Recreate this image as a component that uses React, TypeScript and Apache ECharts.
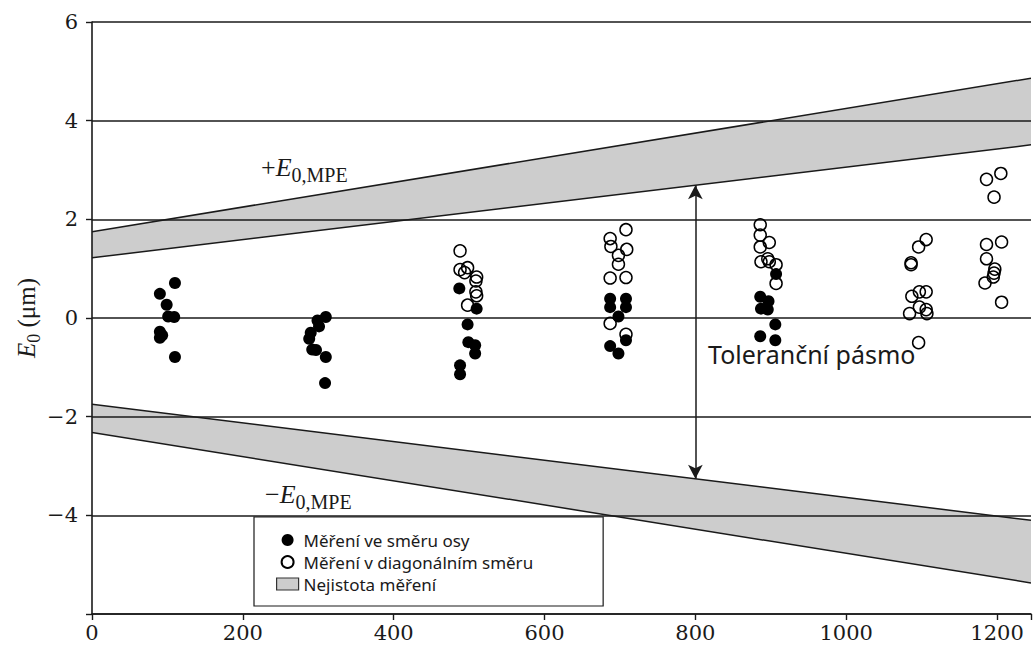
import React, { useEffect, useRef } from "react";
import * as echarts from "echarts";

// ---- data ----
const X_MIN = 0;
const X_MAX = 1245;
const Y_MIN = -6;
const Y_MAX = 6;
const xTickValues = [0, 200, 400, 600, 800, 1000, 1200];
const yTickValues = [-6, -4, -2, 0, 2, 4, 6];

// measurements along the axis direction (filled dots) [length, E0]
const axisDirection: [number, number][] = [
  [110, 0.71], [90, 0.49], [99, 0.27], [101, 0.03], [109, 0.02], [90, -0.28], [93, -0.35], [90, -0.4], [110, -0.79],
  [310, 0.02], [299, -0.05], [301, -0.17], [290, -0.3], [288, -0.42], [292, -0.64], [297, -0.65], [310, -0.79], [309, -1.32],
  [487, 0.6], [510, 0.19], [498, -0.13], [499, -0.49], [508, -0.55], [508, -0.72], [488, -0.96], [488, -1.14],
  [687, 0.39], [708, 0.39], [687, 0.22], [708, 0.22], [698, 0.03], [708, -0.45], [687, -0.57], [698, -0.72],
  [907, 0.89], [886, 0.43], [897, 0.34], [887, 0.19], [896, 0.17], [906, -0.13], [886, -0.37], [906, -0.45],
];

// measurements in diagonal direction (open circles)
const diagonalDirection: [number, number][] = [
  [488, 1.36], [488, 0.98], [498, 1.02], [494, 0.92], [510, 0.83], [509, 0.75], [509, 0.53], [510, 0.45], [498, 0.26],
  [708, 1.79], [687, 1.61], [688, 1.45], [709, 1.39], [698, 1.27], [698, 1.09], [687, 0.81], [708, 0.82], [687, -0.11], [708, -0.33],
  [886, 1.89], [886, 1.68], [898, 1.53], [886, 1.44], [896, 1.2], [887, 1.14], [898, 1.14], [907, 1.08], [907, 0.7],
  [1106, 1.59], [1096, 1.44], [1086, 1.12], [1086, 1.08], [1097, 0.53], [1106, 0.53], [1087, 0.44], [1097, 0.22], [1106, 0.17], [1084, 0.09], [1107, 0.09], [1096, -0.5],
  [1205, 2.93], [1186, 2.81], [1196, 2.45], [1206, 1.54], [1186, 1.49], [1186, 1.2], [1197, 0.99], [1196, 0.91], [1195, 0.83], [1184, 0.71], [1206, 0.32],
];

// uncertainty bands: [xStart, xEnd, lowStart, lowEnd, highStart, highEnd]
const upperBand = [0, 1245, 1.22, 3.51, 1.75, 4.86];
const lowerBand = [0, 1245, -2.32, -5.37, -1.75, -4.1];

// tolerance arrow [x, yTop, yBottom]
const toleranceArrow = [800, 2.69, -3.26];

const NAME_AXIS = "Měření ve směru osy";
const NAME_DIAG = "Měření v diagonálním směru";
const NAME_BAND = "Nejistota měření";

const SERIF = "'Liberation Serif', 'DejaVu Serif', serif";
const TICK_SERIF = "'DejaVu Serif', 'Liberation Serif', serif";
const SANS = "'Noto Sans', 'Open Sans', sans-serif";
const INK = "#1a1a1a";

export default function App() {
  const ref = useRef<HTMLDivElement>(null);

  useEffect(() => {
    if (!ref.current) return;
    const chart = echarts.init(ref.current, null, { renderer: "svg" });

    const bandRender = (params: any, api: any) => {
      const x0 = api.value(0), x1 = api.value(1);
      const lo0 = api.value(2), lo1 = api.value(3);
      const hi0 = api.value(4), hi1 = api.value(5);
      const a = api.coord([x0, lo0]);
      const b = api.coord([x1, lo1]);
      const c = api.coord([x1, hi1]);
      const d = api.coord([x0, hi0]);
      return {
        type: "group",
        children: [
          { type: "polygon", shape: { points: [a, b, c, d] }, style: { fill: "#cdcdcd", stroke: null } },
          { type: "line", shape: { x1: a[0], y1: a[1], x2: b[0], y2: b[1] }, style: { stroke: INK, lineWidth: 1.5 } },
          { type: "line", shape: { x1: d[0], y1: d[1], x2: c[0], y2: c[1] }, style: { stroke: INK, lineWidth: 1.5 } },
        ],
      };
    };

    const subLabel = (prefix: string) => ({
      text: "{n|" + prefix + "}{e|E}{s|0,MPE}",
      align: "left",
      verticalAlign: "middle",
      rich: {
        n: { fontFamily: SERIF, fontSize: 26, fill: INK, lineHeight: 36 },
        e: { fontFamily: SERIF, fontSize: 26, fontStyle: "italic", fill: INK, lineHeight: 36 },
        s: { fontFamily: SERIF, fontSize: 20, fill: INK, lineHeight: 16, verticalAlign: "bottom" },
      },
    });

    const option: any = {
      animation: false,
      backgroundColor: "#ffffff",
      grid: { left: 92, right: 0, top: 22, bottom: 43, containLabel: false },
      xAxis: {
        type: "value",
        min: X_MIN,
        max: X_MAX,
        interval: 200,
        axisLine: { show: true, onZero: false, lineStyle: { color: INK, width: 1.6 } },
        axisTick: { show: true, inside: false, length: 6, lineStyle: { color: INK, width: 1.4 } },
        axisLabel: {
          margin: 8,
          fontFamily: TICK_SERIF,
          fontSize: 21,
          color: INK,
          formatter: (v: number) => (xTickValues.includes(v) ? String(v) : ""),
        },
        splitLine: { show: false },
      },
      yAxis: {
        type: "value",
        min: Y_MIN,
        max: Y_MAX,
        interval: 2,
        axisLine: { show: true, onZero: false, lineStyle: { color: INK, width: 1.6 } },
        axisTick: { show: true, inside: false, length: 6, lineStyle: { color: INK, width: 1.4 } },
        axisLabel: {
          margin: 14,
          fontFamily: TICK_SERIF,
          fontSize: 21,
          color: INK,
          formatter: (v: number) =>
            v === Y_MIN || !yTickValues.includes(v) ? "" : v < 0 ? "\u2212" + Math.abs(v) : String(v),
        },
        splitLine: { show: true, lineStyle: { color: INK, width: 1.6 } },
      },
      legend: {
        orient: "vertical",
        left: 254,
        top: 517,
        padding: [13, 70, 12, 22],
        itemGap: 2,
        itemWidth: 22,
        itemHeight: 12,
        borderColor: INK,
        borderWidth: 1.2,
        backgroundColor: "#ffffff",
        selectedMode: false,
        textStyle: { fontFamily: SANS, fontSize: 17, color: INK, lineHeight: 20 },
        data: [
          { name: NAME_AXIS, icon: "circle" },
          { name: NAME_DIAG, icon: "circle" },
          { name: NAME_BAND, icon: "rect", itemStyle: { color: "#cdcdcd", borderColor: "#333", borderWidth: 1.2 } },
        ],
      },
      series: [
        {
          type: "custom",
          name: NAME_BAND,
          renderItem: bandRender,
          data: [upperBand, lowerBand],
          encode: { x: [0, 1], y: [2, 3, 4, 5] },
          itemStyle: { color: "#cdcdcd", borderColor: "#333", borderWidth: 1.2 },
          clip: true,
          silent: true,
          z: -1,
        },
        {
          type: "scatter",
          name: NAME_DIAG,
          data: diagonalDirection,
          symbol: "circle",
          symbolSize: 12,
          itemStyle: { color: "rgba(0,0,0,0)", borderColor: "#000000", borderWidth: 1.5, opacity: 1 },
          silent: true,
          z: 3,
        },
        {
          type: "scatter",
          name: NAME_AXIS,
          data: axisDirection,
          symbol: "circle",
          symbolSize: 12,
          itemStyle: { color: "#000000", opacity: 1 },
          silent: true,
          z: 4,
          markLine: {
            silent: true,
            symbol: ["arrow", "arrow"],
            symbolSize: [11, 14],
            label: { show: false },
            lineStyle: { color: INK, width: 1.5, type: "solid" },
            data: [
              [
                { coord: [toleranceArrow[0], toleranceArrow[1]] },
                { coord: [toleranceArrow[0], toleranceArrow[2]] },
              ],
            ],
          },
        },
      ],
      graphic: [
        {
          type: "text",
          x: 26,
          y: 318,
          rotation: Math.PI / 2,
          silent: true,
          style: {
            text: "{e|E}{s|0}{n| (\u03bcm)}",
            align: "center",
            verticalAlign: "middle",
            rich: {
              e: { fontFamily: SERIF, fontSize: 25, fontStyle: "italic", fill: INK, lineHeight: 34 },
              s: { fontFamily: SERIF, fontSize: 18, fill: INK, lineHeight: 15, verticalAlign: "bottom" },
              n: { fontFamily: SERIF, fontSize: 25, fill: INK, lineHeight: 34 },
            },
          },
        },
        { type: "text", x: 261, y: 167, silent: true, style: subLabel("+") },
        { type: "text", x: 265, y: 494, silent: true, style: subLabel("\u2212") },
        {
          type: "text",
          x: 708,
          y: 354,
          silent: true,
          style: {
            text: "Toleranční pásmo",
            fontFamily: SANS,
            fontSize: 25,
            fill: INK,
            align: "left",
            verticalAlign: "middle",
          },
        },
      ],
    };

    chart.setOption(option);
    return () => chart.dispose();
  }, []);

  return (
    <div
      ref={ref}
      style={{ position: "fixed", left: 0, top: 0, width: 1034, height: 657, background: "#fff" }}
    />
  );
}
